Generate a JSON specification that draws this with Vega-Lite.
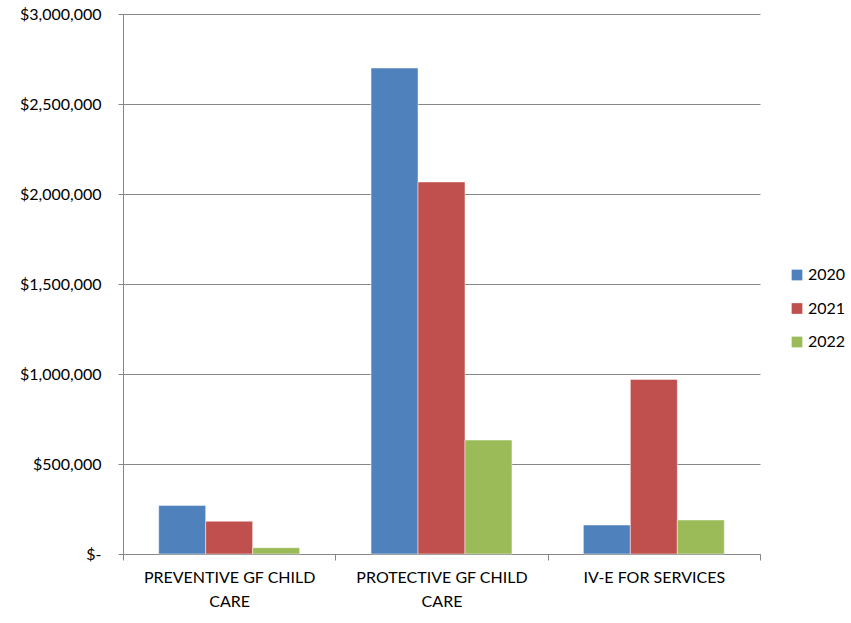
{
  "$schema": "https://vega.github.io/schema/vega-lite/v6.json",
  "autosize": {"type": "none"},
  "padding": {"left": 123, "top": 14, "right": 91, "bottom": 69},
  "width": 637,
  "height": 540,
  "background": "white",
  "config": {
    "font": "Lato",
    "view": {"stroke": null},
    "axis": {"labelFont": "Lato", "labelFontSize": 16, "labelColor": "#000000", "domainColor": "#868686", "tickColor": "#868686", "gridColor": "#868686", "domainWidth": 1, "tickWidth": 1, "gridWidth": 1},
    "legend": {"labelFont": "Lato", "labelFontSize": 16, "labelColor": "#000000"}
  },
  "data": {
    "values": [
      {"category": "PREVENTIVE GF CHILD CARE", "year": "2020", "amount": 270000},
      {"category": "PREVENTIVE GF CHILD CARE", "year": "2021", "amount": 182000},
      {"category": "PREVENTIVE GF CHILD CARE", "year": "2022", "amount": 35000},
      {"category": "PROTECTIVE GF CHILD CARE", "year": "2020", "amount": 2700000},
      {"category": "PROTECTIVE GF CHILD CARE", "year": "2021", "amount": 2067000},
      {"category": "PROTECTIVE GF CHILD CARE", "year": "2022", "amount": 633000},
      {"category": "IV-E FOR SERVICES", "year": "2020", "amount": 161000},
      {"category": "IV-E FOR SERVICES", "year": "2021", "amount": 970000},
      {"category": "IV-E FOR SERVICES", "year": "2022", "amount": 189000}
    ]
  },
  "mark": {"type": "bar", "stroke": "#ffffff", "strokeOpacity": 0.6, "strokeWidth": 0.8},
  "encoding": {
    "x": {
      "field": "category", "type": "nominal", "sort": null,
      "scale": {"paddingInner": 0, "paddingOuter": 0},
      "axis": {"title": null, "labelAngle": 0, "tickBand": "extent", "tickSize": 6, "labelPadding": 9, "labelLineHeight": 24, "labelLimit": 0,
        "labelExpr": "indexof(datum.label, ' CARE') > 0 ? [replace(datum.label, ' CARE', ''), 'CARE'] : datum.label"}
    },
    "xOffset": {"field": "year", "type": "nominal", "scale": {"paddingOuter": 0.76, "paddingInner": 0}},
    "y": {
      "field": "amount", "type": "quantitative",
      "scale": {"domain": [0, 3000000], "nice": false},
      "axis": {"title": null, "values": [0, 500000, 1000000, 1500000, 2000000, 2500000, 3000000], "tickSize": 5, "labelPadding": 17,
        "labelExpr": "datum.value == 0 ? '$-' : format(datum.value, '$,.0f')"}
    },
    "color": {
      "field": "year", "type": "nominal",
      "scale": {"domain": ["2020", "2021", "2022"], "range": ["#4F81BD", "#C0504D", "#9BBB59"]},
      "legend": {"title": null, "orient": "none", "legendX": 666, "legendY": 253, "symbolType": "square", "symbolSize": 115, "symbolStrokeWidth": 0, "rowPadding": 17.5, "labelOffset": 3}
    }
  }
}
